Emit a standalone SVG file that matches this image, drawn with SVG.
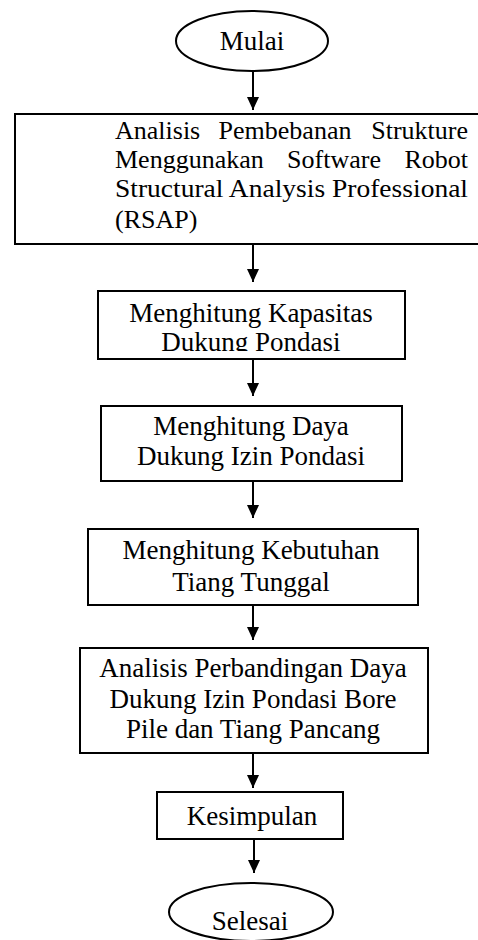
<svg xmlns="http://www.w3.org/2000/svg" width="478" height="940" viewBox="0 0 478 940">
<style>
.n{fill:#fff;stroke:#000;stroke-width:2}
.t{font-family:"Liberation Serif","Times New Roman",serif;font-size:27px;fill:#000}
.s{font-size:26px}
.c{text-anchor:middle}
.e{text-anchor:end}
.a{stroke:#000;stroke-width:2;fill:none;marker-end:url(#ah)}
</style>
<defs>
<marker id="ah" markerUnits="userSpaceOnUse" viewBox="0 0 13 12" refX="13" refY="6" markerWidth="13" markerHeight="12" orient="auto">
<path d="M0,0 L13,6 L0,12 Z" fill="#000"/>
</marker>
<clipPath id="cl2"><rect x="90" y="290" width="320" height="61"/></clipPath>
</defs>
<g id="connectors">
<line class="a" x1="253" y1="71" x2="253" y2="110"/>
<line class="a" x1="253" y1="244" x2="253" y2="282"/>
<line class="a" x1="253" y1="359" x2="253" y2="396"/>
<line class="a" x1="253" y1="481" x2="253" y2="518"/>
<line class="a" x1="253" y1="605" x2="253" y2="640"/>
<line class="a" x1="253" y1="753" x2="253" y2="788"/>
<line class="a" x1="254" y1="839" x2="254" y2="873"/>
</g>
<g id="mulai">
<ellipse class="n" cx="252" cy="41" rx="76" ry="30"/>
<text class="t c" x="252" y="50">Mulai</text>
</g>
<g id="analisis-pembebanan">
<rect class="n" x="15" y="114" width="475" height="130"/>
<text class="t s" x="115" y="139">Analisis</text>
<text class="t s c" x="285" y="139">Pembebanan</text>
<text class="t s e" x="468" y="139">Strukture</text>
<text class="t s" x="115" y="168">Menggunakan</text>
<text class="t s c" x="334" y="168">Software</text>
<text class="t s e" x="468" y="168">Robot</text>
<text class="t s" x="115" y="197" textLength="353" lengthAdjust="spacingAndGlyphs">Structural Analysis Professional</text>
<text class="t s" x="115" y="228">(RSAP)</text>
</g>
<g id="kapasitas">
<rect class="n" x="98" y="291" width="307" height="68"/>
<text class="t c" x="251" y="322">Menghitung Kapasitas</text>
<text class="t c" x="251" y="351" clip-path="url(#cl2)">Dukung Pondasi</text>
</g>
<g id="daya-izin">
<rect class="n" x="101" y="406" width="301" height="75"/>
<text class="t c" x="251" y="435">Menghitung Daya</text>
<text class="t c" x="251" y="465">Dukung Izin Pondasi</text>
</g>
<g id="tiang-tunggal">
<rect class="n" x="88" y="529" width="330" height="76"/>
<text class="t c" x="251" y="559">Menghitung Kebutuhan</text>
<text class="t c" x="251" y="591">Tiang Tunggal</text>
</g>
<g id="perbandingan">
<rect class="n" x="80" y="648" width="348" height="105"/>
<text class="t c" x="253" y="677">Analisis Perbandingan Daya</text>
<text class="t c" x="253" y="708">Dukung Izin Pondasi Bore</text>
<text class="t c" x="253" y="738">Pile dan Tiang Pancang</text>
</g>
<g id="kesimpulan">
<rect class="n" x="157" y="792" width="186" height="47"/>
<text class="t c" x="252" y="825">Kesimpulan</text>
</g>
<g id="selesai">
<ellipse class="n" cx="251" cy="912" rx="82" ry="29"/>
<text class="t c" x="250" y="930">Selesai</text>
</g>
</svg>
